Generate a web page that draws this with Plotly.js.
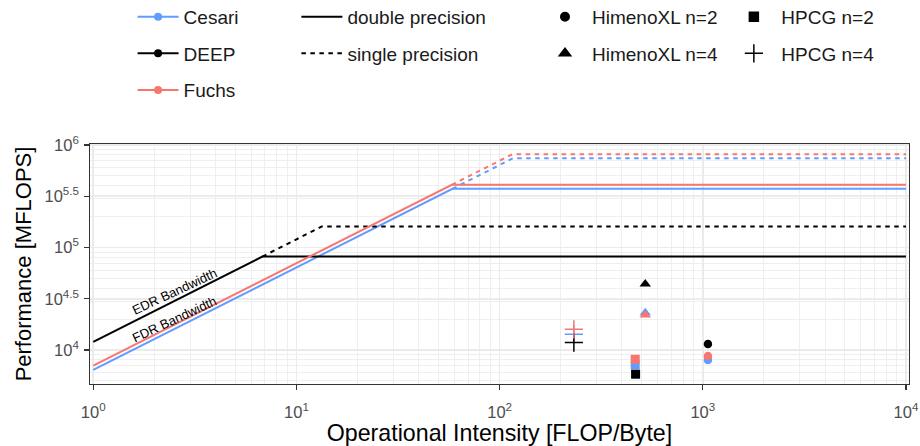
<!DOCTYPE html>
<html>
<head>
<meta charset="utf-8">
<script src="https://cdn.plot.ly/plotly-3.0.1.min.js"></script>
<style>html,body{margin:0;padding:0;background:#fff;}#chart{width:920px;height:446px;}</style>
</head>
<body>
<div id="chart"></div>
<script>
// ---- data ----
const machines = ["Cesari", "DEEP", "Fuchs"];
const precisions = ["double precision", "single precision"];
const benchmarks = ["HimenoXL n=2", "HimenoXL n=4", "HPCG n=2", "HPCG n=4"];

// roofline vertices (operational intensity, MFLOPS)
const cesariDoubleX = [1, 58.6, 10000];
const cesariDoubleY = [6380, 374000, 374000];
const cesariSingleX = [58.6, 116, 10000];
const cesariSingleY = [374000, 741000, 741000];
const deepDoubleX = [1, 6.8, 10000];
const deepDoubleY = [12000, 81600, 81600];
const deepSingleX = [6.8, 13.3, 10000];
const deepSingleY = [81600, 160000, 160000];
const fuchsDoubleX = [1, 58.2, 10000];
const fuchsDoubleY = [7030, 409000, 409000];
const fuchsSingleX = [58.2, 115.4, 10000];
const fuchsSingleY = [409000, 811000, 811000];

// measured benchmark points, order: Cesari, DEEP, Fuchs
const himeno2X = [1060, 1060, 1060];
const himeno2Y = [7980, 11450, 8740];
const himeno4X = [521, 521, 521];
const himeno4Y = [23100, 44000, 21900];
const hpcg2X = [465, 467, 465];
const hpcg2Y = [7140, 5800, 8110];
const hpcg4X = [232, 232, 232];
const hpcg4Y = [14200, 11800, 15900];

// axis ticks
const xTickVals = [1, 10, 100, 1000, 10000];
const xTickText = ["10<sup>0</sup>", "10<sup>1</sup>", "10<sup>2</sup>", "10<sup>3</sup>", "10<sup>4</sup>"];
const yTickVals = [1e4, Math.pow(10, 4.5), 1e5, Math.pow(10, 5.5), 1e6];
const yTickText = ["10<sup>4</sup>", "10<sup>4.5</sup>", "10<sup>5</sup>", "10<sup>5.5</sup>", "10<sup>6</sup>"];
const minorMultipliers = [2, 3, 4, 5, 6, 7, 8, 9];

// ---- style ----
const machineColors = ["#619CFF", "#000000", "#F8766D"];
const FONT = "Liberation Sans, Arial, sans-serif";

const minorVals = (decades) => {
  const out = [];
  decades.forEach(d => minorMultipliers.forEach(m => out.push(m * Math.pow(10, d))));
  return out;
};

const traces = [];
const dbl = [[cesariDoubleX, cesariDoubleY], [deepDoubleX, deepDoubleY], [fuchsDoubleX, fuchsDoubleY]];
const sgl = [[cesariSingleX, cesariSingleY], [deepSingleX, deepSingleY], [fuchsSingleX, fuchsSingleY]];

machines.forEach((m, i) => {
  traces.push({x: sgl[i][0], y: sgl[i][1], mode: "lines", showlegend: false, hoverinfo: "skip",
    line: {color: machineColors[i], width: 2, dash: "4.5px,4.5px"}});
  traces.push({x: dbl[i][0], y: dbl[i][1], mode: "lines", showlegend: false, hoverinfo: "skip",
    line: {color: machineColors[i], width: 2}});
});

const pts = [
  [himeno2X, himeno2Y, "circle", 8.5],
  [himeno4X, himeno4Y, "triangle-up", 10],
  [hpcg2X, hpcg2Y, "square", 9],
];
machines.forEach((m, i) => {
  pts.forEach(p => {
    traces.push({x: [p[0][i]], y: [p[1][i]], mode: "markers", showlegend: false,
      marker: {symbol: p[2], size: p[3], color: machineColors[i]}});
  });
  traces.push({x: [hpcg4X[i]], y: [hpcg4Y[i]], mode: "markers", showlegend: false,
    marker: {symbol: "cross-thin", size: 13, color: machineColors[i], line: {color: machineColors[i], width: 1.5}}});
});

// legend entries
machines.forEach((m, i) => {
  traces.push({x: [null], y: [null], name: m, mode: "lines+markers", legend: "legend", legendgroup: "m" + i,
    line: {color: machineColors[i], width: 2}, marker: {color: machineColors[i], size: 8}});
});
precisions.forEach((p, i) => {
  traces.push({x: [null], y: [null], name: p, mode: "lines", legend: "legend2", legendgroup: "p" + i,
    line: {color: "#000", width: 2, dash: i === 0 ? "solid" : "4.5px,4.5px"}});
});
const legSym = [["circle", 8.5, "legend3"], ["triangle-up", 10, "legend3"], ["square", 9, "legend4"], ["cross-thin", 13, "legend4"]];
benchmarks.forEach((b, i) => {
  traces.push({x: [null], y: [null], name: b, mode: "markers", legend: legSym[i][2], legendgroup: "b" + i,
    marker: {symbol: legSym[i][0], size: legSym[i][1], color: "#000", line: {color: "#000", width: 1.5}}});
});

const legendBase = {orientation: "v", bgcolor: "rgba(0,0,0,0)", borderwidth: 0,
  font: {family: FONT, size: 19, color: "#1a1a1a"}, itemwidth: 41, tracegroupgap: 8.9,
  xanchor: "left", yanchor: "top", itemclick: false, itemdoubleclick: false};

const axisBase = {type: "log", showline: true, mirror: true, linecolor: "#333333", linewidth: 1.3,
  ticks: "outside", ticklen: 4.5, tickwidth: 1.3, tickcolor: "#333333",
  tickfont: {family: FONT, size: 16.5, color: "#4D4D4D"},
  showgrid: true, gridcolor: "#EBEBEB", gridwidth: 1.6, zeroline: false, tickmode: "array"};

const layout = {
  width: 920, height: 446,
  margin: {l: 90, r: 11, t: 144, b: 62, autoexpand: false},
  paper_bgcolor: "#fff", plot_bgcolor: "#fff",
  font: {family: FONT},
  xaxis: Object.assign({}, axisBase, {
    range: [-0.016, 4.015], tickvals: xTickVals, ticktext: xTickText, ticklabelstandoff: 8,
    minor: {tickmode: "array", tickvals: minorVals([0, 1, 2, 3]), showgrid: true, gridcolor: "#EBEBEB", gridwidth: 0.8, ticks: ""},
    title: {text: "Operational Intensity [FLOP/Byte]", font: {family: FONT, size: 23.2, color: "#000"}, standoff: 5}
  }),
  yaxis: Object.assign({}, axisBase, {
    range: [3.668, 6.01], tickvals: yTickVals, ticktext: yTickText, ticklabelstandoff: 2,
    minor: {tickmode: "array", tickvals: minorVals([3, 4, 5]), showgrid: true, gridcolor: "#EBEBEB", gridwidth: 0.8, ticks: ""},
    title: {text: "Performance [MFLOPS]", font: {family: FONT, size: 22, color: "#000"}, standoff: 6}
  }),
  legend: Object.assign({}, legendBase, {x: 0.052, y: 1.609}),
  legend2: Object.assign({}, legendBase, {x: 0.252, y: 1.609}),
  legend3: Object.assign({}, legendBase, {x: 0.547, y: 1.609, itemwidth: 44}),
  legend4: Object.assign({}, legendBase, {x: 0.777, y: 1.609, itemwidth: 45}),
  annotations: [
    {x: Math.log10(2.52), y: Math.log10(36800), xref: "x", yref: "y", text: "EDR Bandwidth", showarrow: false,
      textangle: -25, font: {family: FONT, size: 13, color: "#000"}},
    {x: Math.log10(2.5), y: Math.log10(19800), xref: "x", yref: "y", text: "FDR Bandwidth", showarrow: false,
      textangle: -25, font: {family: FONT, size: 13, color: "#000"}}
  ],
  showlegend: true
};

Plotly.newPlot("chart", traces, layout, {staticPlot: true, displayModeBar: false});
</script>
</body>
</html>
